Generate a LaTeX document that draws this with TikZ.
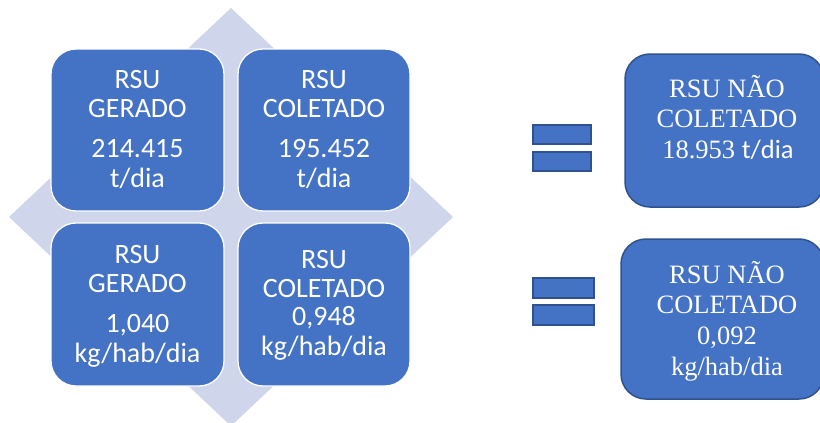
\documentclass[tikz,border=0pt]{standalone}
\usepackage{fontspec}
\setmainfont{Liberation Serif}
\newfontfamily\calfont{Carlito}
\definecolor{boxblue}{HTML}{4472C4}
\definecolor{boxedge}{HTML}{2F528F}
\definecolor{diam}{HTML}{CFD5EA}
\tikzset{
  gridbox/.style={fill=boxblue, draw=white, line width=1.3pt, rounded corners=25pt},
  resbox/.style={fill=boxblue, draw=boxedge, line width=1.5pt, rounded corners=25pt},
  eqbar/.style={fill=boxblue, draw=boxedge, line width=1.3pt},
  sl/.style={anchor=base, inner sep=0pt, text=white, font=\calfont\fontsize{28}{29}\selectfont},
  rl/.style={anchor=base, inner sep=0pt, text=white, font=\fontsize{26.5}{30}\selectfont},
}
\begin{document}
\begin{tikzpicture}[x=1pt,y=-1pt]
\useasboundingbox (0,0) rectangle (820,423);
% background diamond
\fill[diam] (231,8) -- (453,217) -- (231,426) -- (9,217) -- cycle;
% grid boxes
\draw[gridbox] (51,49) rectangle (224,211);
\draw[gridbox] (238,49) rectangle (410,211);
\draw[gridbox] (51,223) rectangle (224,386);
\draw[gridbox] (238,223) rectangle (410,386);
% texts top-left
\node[sl] (a1) at (137.5,88) {RSU};
\node[sl] (a2) at (137.5,117) {GERADO};
\node[sl] (a3) at (137.5,157) {214.415};
\node[sl] (a4) at (137.5,187) {t/dia};
% top-right
\node[sl] (b1) at (324,88) {RSU};
\node[sl] (b2) at (324,117) {COLETADO};
\node[sl] (b3) at (324,157) {195.452};
\node[sl] (b4) at (324,187) {t/dia};
% bottom-left
\node[sl] (c1) at (137.5,263) {RSU};
\node[sl] (c2) at (137.5,292) {GERADO};
\node[sl] (c3) at (137.5,332) {1,040};
\node[sl] (c4) at (137.5,362) {kg/hab/dia};
% bottom-right
\node[sl] (d1) at (324,268) {RSU};
\node[sl] (d2) at (324,297) {COLETADO};
\node[sl] (d3) at (324,325) {0,948};
\node[sl] (d4) at (324,355) {kg/hab/dia};
% equals signs
\draw[eqbar] (533,125) rectangle (591,144);
\draw[eqbar] (533,152) rectangle (591,171);
\draw[eqbar] (533,278) rectangle (594,298);
\draw[eqbar] (533,305) rectangle (594,325);
% result boxes
\draw[resbox] (625,54) rectangle (824,207);
\draw[resbox] (621,239) rectangle (824,399);
\node[rl] (e1) at (727,97) {RSU NÃO};
\node[rl] (e2) at (727,127) {COLETADO};
\node[rl] (e3) at (728,158) {18.953 {\calfont t/dia}};
\node[rl] (f1) at (727,283) {RSU NÃO};
\node[rl] (f2) at (727,313) {COLETADO};
\node[rl] (f3) at (727,344) {0,092};
\node[rl] (f4) at (727,375) {kg/hab/dia};
\end{tikzpicture}
\end{document}
